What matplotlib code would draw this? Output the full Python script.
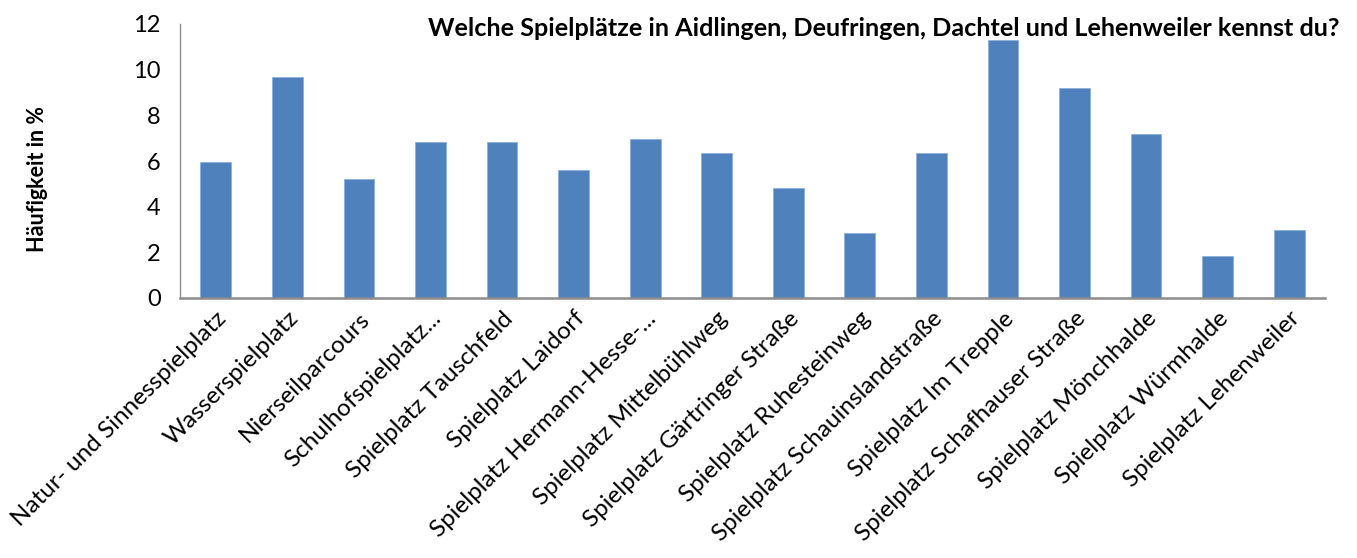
import numpy as np
import matplotlib.pyplot as plt

plt.rcParams['font.family'] = ['Lato', 'DejaVu Sans']

categories = ['Natur- und Sinnesspielplatz', 'Wasserspielplatz', 'Nierseilparcours',
              'Schulhofspielplatz...', 'Spielplatz Tauschfeld', 'Spielplatz Laidorf',
              'Spielplatz Hermann-Hesse-...', 'Spielplatz Mittelbühlweg',
              'Spielplatz Gärtringer Straße', 'Spielplatz Ruhesteinweg',
              'Spielplatz Schauinslandstraße', 'Spielplatz Im Trepple',
              'Spielplatz Schafhauser Straße', 'Spielplatz Mönchhalde',
              'Spielplatz Würmhalde', 'Spielplatz Lehenweiler']
values = [5.95, 9.7, 5.2, 6.85, 6.85, 5.6, 6.95, 6.35, 4.8, 2.85,
          6.35, 11.3, 9.2, 7.2, 1.85, 3.0]
yticks = [0, 2, 4, 6, 8, 10, 12]

W, H = 1357, 558
fig = plt.figure(figsize=(W/100, H/100), dpi=100)
ax = fig.add_axes([180/W, 1-298/H, (1325-180)/W, (298-24)/H])

x = np.arange(len(categories))
ax.bar(x, values, width=0.43, color='#4F81BD', edgecolor='#8EB0DC', linewidth=0.6)

ax.set_xlim(-0.5, len(categories)-0.5)
ax.set_ylim(0, 12)
ax.set_yticks(yticks)
ax.set_yticklabels([str(v) for v in yticks], fontsize=17)
ax.tick_params(axis='y', length=0, pad=14)
ax.tick_params(axis='x', length=0, pad=7)
ax.set_xticks(x)
ax.set_xticklabels(categories, rotation=45, ha='right', rotation_mode='anchor', fontsize=17.5)

for s in ['top', 'right']:
    ax.spines[s].set_visible(False)
ax.spines['left'].set_color('#8C8C8C')
ax.spines['left'].set_linewidth(1.0)
ax.spines['bottom'].set_color('#8C8C8C')
ax.spines['bottom'].set_linewidth(1.8)

fig.text(38/W, 1-179/H, 'Häufigkeit in %', rotation=90, ha='center', va='center',
         fontsize=15.5, fontweight='bold')
fig.text(1340/W, 1-28/H, 'Welche Spielplätze in Aidlingen, Deufringen, Dachtel und Lehenweiler kennst du?',
         ha='right', va='center', fontsize=18.2, fontweight='bold')

fig.savefig('out.png', dpi=100)
